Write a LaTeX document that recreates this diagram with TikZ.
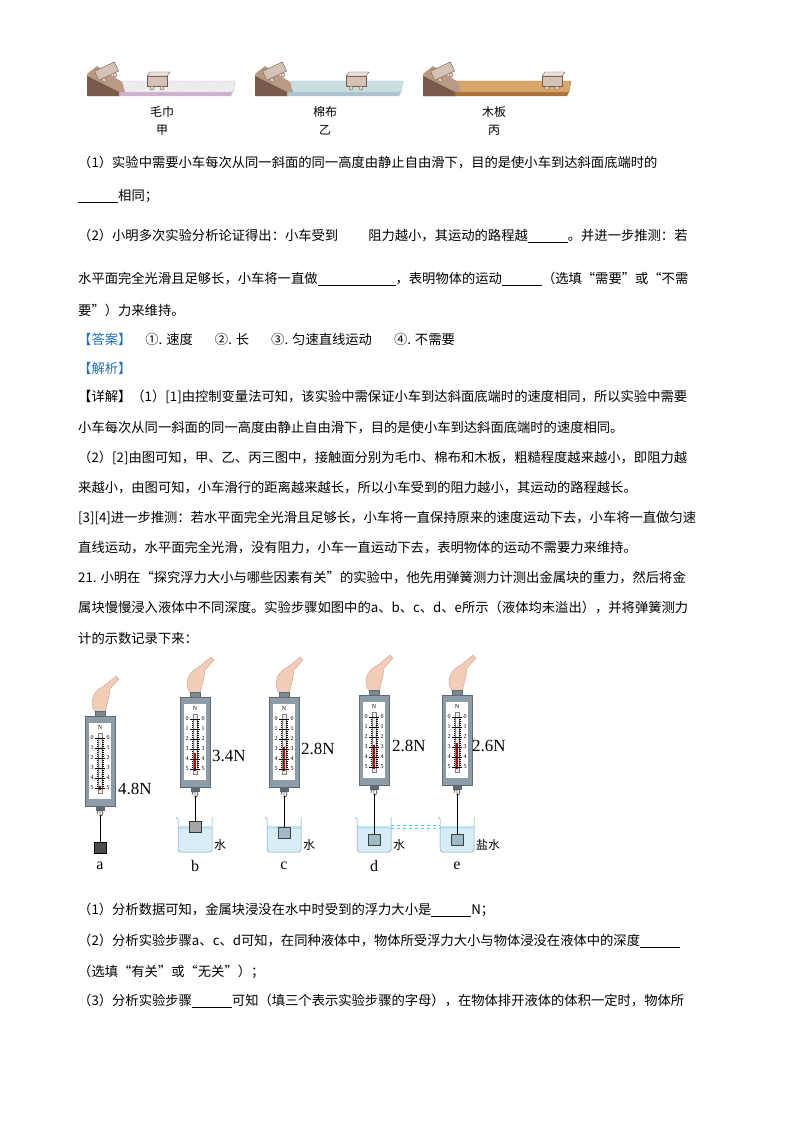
\documentclass[tikz,border=0pt]{standalone}
\usepackage{fontspec}
\newfontfamily\cjk{Noto Sans CJK SC}
\newfontfamily\tms{Liberation Serif}
\definecolor{framec}{HTML}{8E9CA8}
\definecolor{framed}{HTML}{5E6A74}
\definecolor{skin}{HTML}{F1CDB8}
\definecolor{skind}{HTML}{C9937A}
\definecolor{ansblue}{HTML}{1F6FC8}
\definecolor{waterc}{HTML}{BFE3F2}
\definecolor{ramp}{HTML}{B89A85}
\definecolor{rampd}{HTML}{7A5A48}
\definecolor{towel}{HTML}{EEEDF0}
\definecolor{cotton}{HTML}{C8DEE0}
\definecolor{wood}{HTML}{D9A66E}
\newcommand\blank[1]{\rule[-2pt]{#1}{0.5pt}}
\newcommand\sscale[3]{%
\begin{scope}[shift={(#1,#2)}]
 \fill[skin,draw=skind,line width=0.3pt] (-5,-4) .. controls (-12,-14) and (-6,-26) .. (4,-30) -- (16,-40) -- (19,-37) -- (10,-27) .. controls (9,-16) and (6,-8) .. (5,-4) -- cycle;
 \filldraw[fill=framed!80,draw=framed] (-5,-5) rectangle (5,0);
 \filldraw[fill=framec,draw=framed] (-15,0) rectangle (15,90);
 \fill[white] (-11,7) rectangle (11,83);
 \node[font=\tms\fontsize{6}{6}\selectfont] at (0,12) {N};
 \draw[gray,line width=0.3pt,fill=gray!15] (-2,17) rectangle (2,77);
 \fill[red!75!black] (-1.4,{22+10*#3}) rectangle (1.4,74);
 \foreach \i in {0,...,5}{
   \draw[line width=0.3pt] (-5,22+10*\i) -- (5,22+10*\i);
   \node[font=\tms\fontsize{6}{6}\selectfont] at (-8,22+10*\i) {\i};
   \node[font=\tms\fontsize{6}{6}\selectfont] at (8,22+10*\i) {\i};}
 \foreach \j in {1,...,24}{\draw[line width=0.2pt] (-3.5,22+2*\j) -- (-2,22+2*\j) (2,22+2*\j) -- (3.5,22+2*\j);}
 \filldraw[fill=framed,draw=framed] (-4,90) rectangle (4,94);
 \draw[gray!70!black,line width=0.8pt] (0,94) -- (0,100) arc[start angle=90,end angle=-200,radius=3];
\end{scope}}
\newcommand\beaker[2]{%
\begin{scope}[shift={(#1,0)}]
 \fill[waterc!60] (-17,826) -- (-17,850) -- (-15,852) -- (15,852) -- (17,850) -- (17,826) -- cycle;
 \fill[waterc] (-17,826) rectangle (17,829);
 \draw[#2,line width=0.5pt] (-19,817) -- (-17,819) -- (-17,850) -- (-15,852) -- (15,852) -- (17,850) -- (17,817);
\end{scope}}
\newcommand\board[5]{%
\begin{scope}[shift={(#1,0)}]
 \fill[#4] (0,92) -- (146,92) -- (144,96) -- (0,96) -- cycle;
 \filldraw[fill=#3,draw=#4,line width=0.4pt] (22,81) -- (148,81) -- (146,92) -- (0,92) -- cycle;
 #5
 \fill[ramp] (0,92) -- (0,74) -- (10,66) -- (35,82) -- (38,92) -- cycle;
 \fill[rampd] (0,96) -- (0,76) -- (32,92) -- (32,96) -- cycle;
 \begin{scope}[shift={(20,72)},rotate=25]
  \filldraw[fill=ramp!60!white,draw=rampd,line width=0.4pt] (-11,-6) rectangle (11,4);
  \draw[rampd,fill=ramp!40] (-6,6) circle (2) (6,6) circle (2);
 \end{scope}
 \begin{scope}[shift={(#2,0)}]
  \filldraw[fill=ramp!60!white,draw=rampd,line width=0.4pt] (-10,76) rectangle (10,86);
  \filldraw[fill=ramp!30!white,draw=rampd,line width=0.4pt] (-10,76) -- (-7,72) -- (13,72) -- (10,76) -- cycle;
  \draw[rampd,fill=ramp!40] (-5,88) circle (2) (5,88) circle (2);
 \end{scope}
\end{scope}}
\begin{document}
\begin{tikzpicture}[x=1pt,y=-1pt,
  txt/.style={anchor=west,inner sep=0pt,font=\cjk\fontsize{13.3}{15}\selectfont},
  lab/.style={inner sep=0pt,font=\cjk\fontsize{12}{14}\selectfont},
  rd/.style={anchor=west,inner sep=0pt,font=\tms\fontsize{17}{17}\selectfont},
  let/.style={inner sep=0pt,font=\tms\fontsize{16}{16}\selectfont}]
\useasboundingbox[fill=white] (0,0) rectangle (800,1132);
% top figure
\board{87}{70}{towel}{gray!50!violet!40}{\foreach \k in {1,...,70}{\fill[gray!55] ({35+mod(\k*37,108)},{83+mod(\k*7,8)}) circle (0.45);}}
\board{255}{101}{cotton}{cyan!30!gray!60}{}
\board{423}{129}{wood}{brown!90!black}{}
\node[lab] (m1) at (162,112) {毛巾}; \node[lab] (m2) at (162,130) {甲};
\node[lab] (n1) at (325,112) {棉布}; \node[lab] (n2) at (325,130) {乙};
\node[lab] (w1) at (494,112) {木板}; \node[lab] (w2) at (494,130) {丙};
% text
\node[txt] (t1) at (78,163) {（1）实验中需要小车每次从同一斜面的同一高度由静止自由滑下，目的是使小车到达斜面底端时的};
\node[txt] (t2) at (78,196) {\blank{40pt}相同；};
\node[txt] (t3) at (78,236) {（2）小明多次实验分析论证得出：小车受到\hspace{30pt}阻力越小，其运动的路程越\blank{40pt}。并进一步推测：若};
\node[txt] (t4) at (78,279) {水平面完全光滑且足够长，小车将一直做\blank{78pt}，表明物体的运动\blank{40pt}（选填“需要”或“不需};
\node[txt] (t5) at (78,310) {要”）力来维持。};
\node[txt] (t6) at (78,339) {\textcolor{ansblue}{【答案】}\hspace{14pt}①. 速度\hspace{22pt}②. 长\hspace{22pt}③. 匀速直线运动\hspace{22pt}④. 不需要};
\node[txt] (t7) at (78,368) {\textcolor{ansblue}{【解析】}};
\node[txt] (t8) at (78,397) {【详解】（1）[1]由控制变量法可知，该实验中需保证小车到达斜面底端时的速度相同，所以实验中需要};
\node[txt] (t9) at (78,428) {小车每次从同一斜面的同一高度由静止自由滑下，目的是使小车到达斜面底端时的速度相同。};
\node[txt] (t10) at (78,458) {（2）[2]由图可知，甲、乙、丙三图中，接触面分别为毛巾、棉布和木板，粗糙程度越来越小，即阻力越};
\node[txt] (t11) at (78,488) {来越小，由图可知，小车滑行的距离越来越长，所以小车受到的阻力越小，其运动的路程越长。};
\node[txt] (t12) at (78,518) {[3][4]进一步推测：若水平面完全光滑且足够长，小车将一直保持原来的速度运动下去，小车将一直做匀速};
\node[txt] (t13) at (78,548) {直线运动，水平面完全光滑，没有阻力，小车一直运动下去，表明物体的运动不需要力来维持。};
\node[txt] (t14) at (78,578) {21. 小明在“探究浮力大小与哪些因素有关”的实验中，他先用弹簧测力计测出金属块的重力，然后将金};
\node[txt] (t15) at (78,608) {属块慢慢浸入液体中不同深度。实验步骤如图中的a、b、c、d、e所示（液体均未溢出），并将弹簧测力};
\node[txt] (t16) at (78,638) {计的示数记录下来：};
% spring scales
\sscale{100}{716}{4.8}
\sscale{195}{697}{3.4}
\sscale{284}{697}{2.8}
\sscale{374}{695}{2.8}
\sscale{457}{695}{2.6}
% a weight
\draw[black,line width=0.8pt] (100,815) -- (100,842);
\filldraw[fill=gray!60!black,draw=black] (94,842) rectangle (106,853);
% beakers
\beaker{195}{cyan!40!gray}
\beaker{284}{cyan!40!gray}
\beaker{374}{cyan!40!gray}
\beaker{457}{cyan!40!gray}
\draw[black,line width=0.6pt] (195,796) -- (195,821) (284,796) -- (284,827) (374,794) -- (374,834) (457,794) -- (457,834);
\filldraw[fill=gray!70,draw=gray!40!black] (189,821) rectangle (201,832);
\filldraw[fill=cyan!30!gray!70,draw=gray!50!black] (278,827) rectangle (290,838);
\filldraw[fill=cyan!30!gray!70,draw=gray!50!black] (368,834) rectangle (380,845);
\filldraw[fill=cyan!30!gray!70,draw=gray!50!black] (451,834) rectangle (463,845);
\coordinate (dw) at (391,827); \coordinate (ew) at (440,827);
\draw[cyan!70,dashed,line width=0.8pt] ([yshift=1.5pt]dw) -- ([yshift=1.5pt]ew) ([yshift=-1.5pt]dw) -- ([yshift=-1.5pt]ew);
% labels
\node[rd] (ra) at (118,789) {4.8N};
\node[rd] (rb) at (212,756) {3.4N};
\node[rd] (rc) at (301,749) {2.8N};
\node[rd] (rdd) at (392,746) {2.8N};
\node[rd] (re) at (472,746) {2.6N};
\node[lab,anchor=west] (s1) at (214,845) {水};
\node[lab,anchor=west] (s2) at (303,845) {水};
\node[lab,anchor=west] (s3) at (393,845) {水};
\node[lab,anchor=west] (s4) at (476,845) {盐水};
\node[let] (la) at (100,866) {a};
\node[let] (lb) at (195,866) {b};
\node[let] (lc) at (284,866) {c};
\node[let] (ld) at (374,866) {d};
\node[let] (le) at (457,866) {e};
% questions
\node[txt] (q1) at (78,910) {（1）分析数据可知，金属块浸没在水中时受到的浮力大小是\blank{40pt}N；};
\node[txt] (q2) at (78,941) {（2）分析实验步骤a、c、d可知，在同种液体中，物体所受浮力大小与物体浸没在液体中的深度\blank{40pt}};
\node[txt] (q3) at (78,972) {（选填“有关”或“无关”）；};
\node[txt] (q4) at (78,1001) {（3）分析实验步骤\blank{40pt}可知（填三个表示实验步骤的字母），在物体排开液体的体积一定时，物体所};
\end{tikzpicture}
\end{document}
